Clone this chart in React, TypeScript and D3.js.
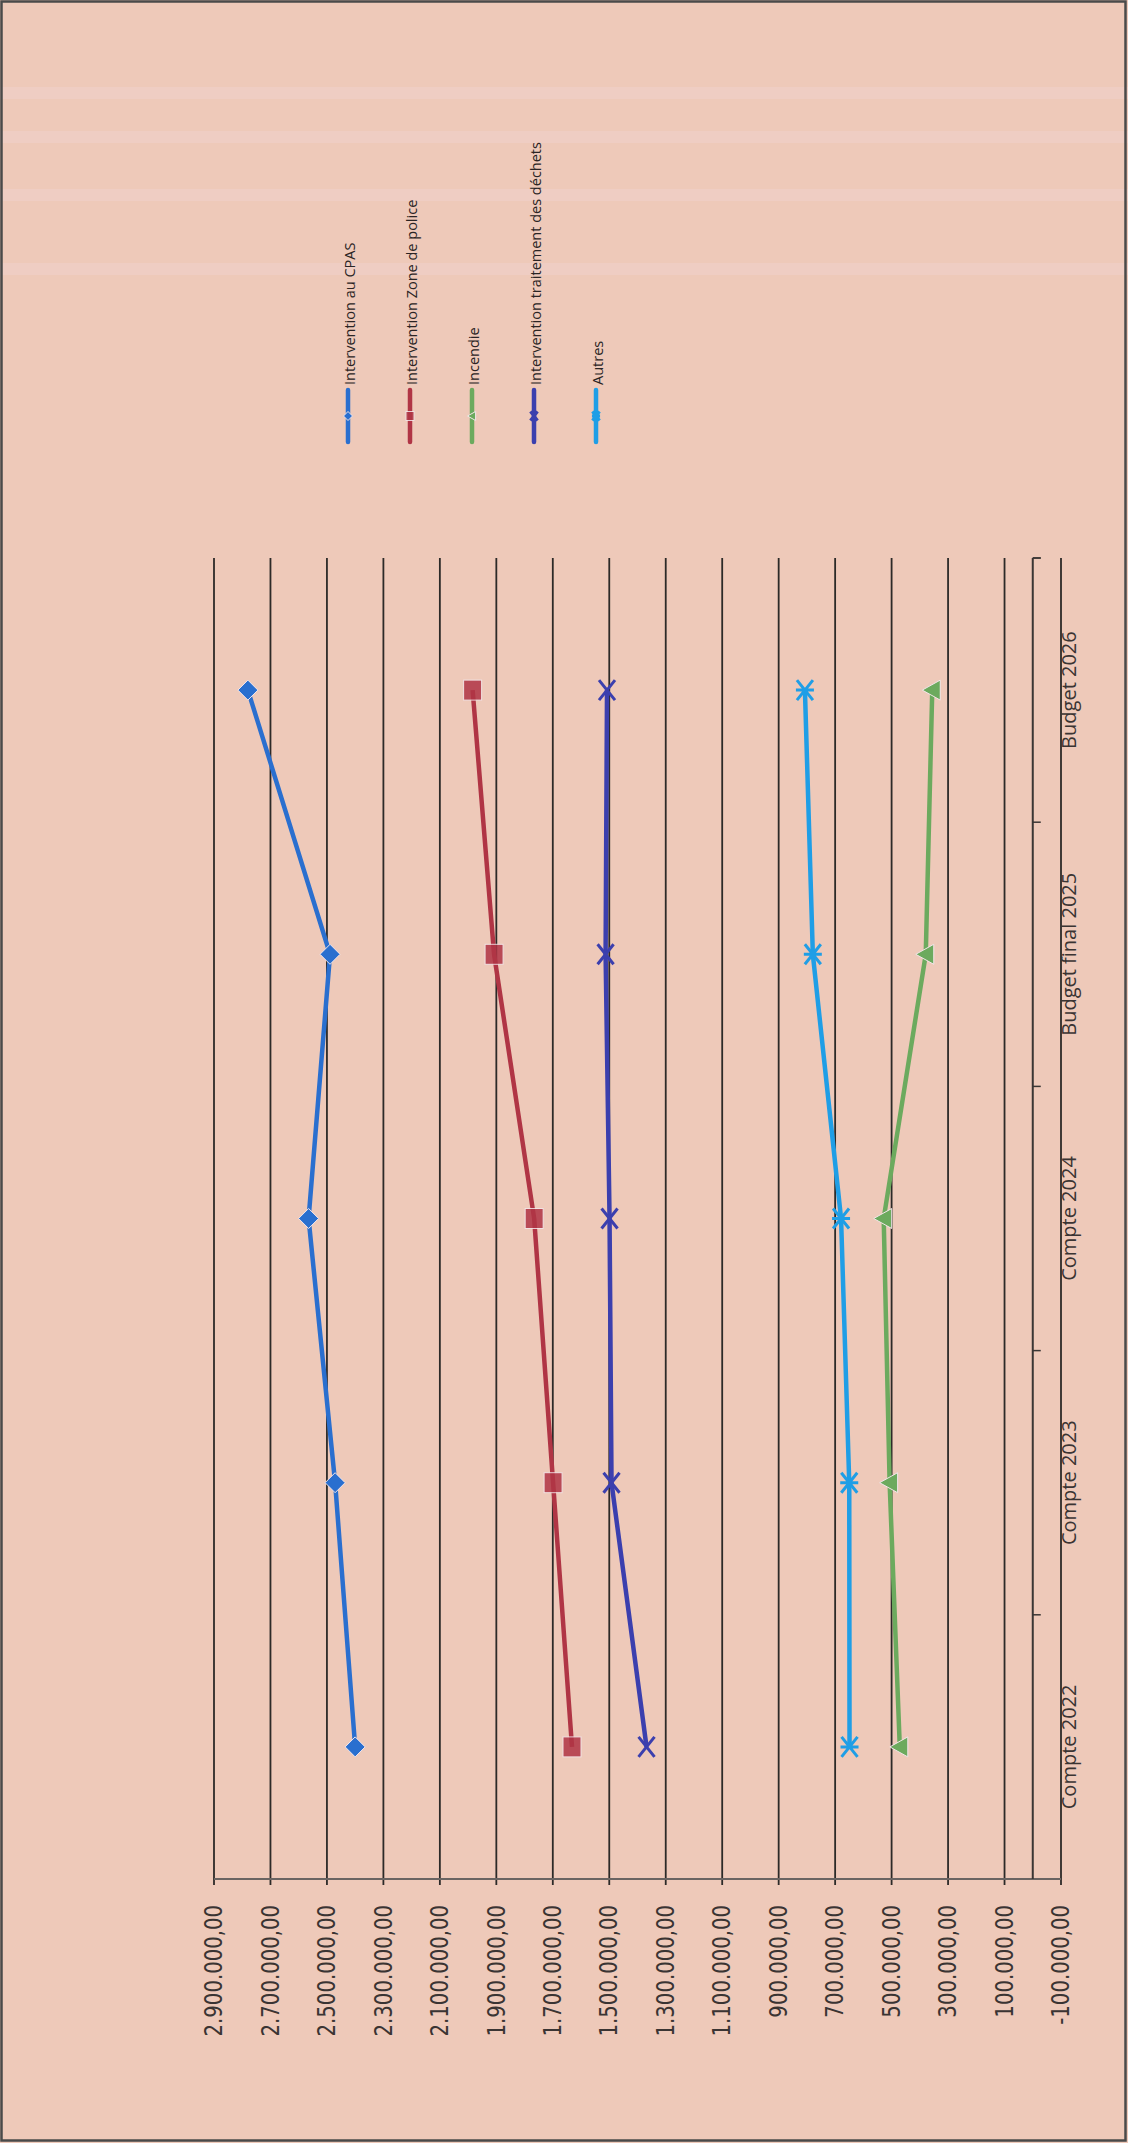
// @ts-nocheck
import * as d3 from "d3";
import { useRef, useEffect } from "react";

const categories = [
  "Compte 2022",
  "Compte 2023",
  "Compte 2024",
  "Budget final 2025",
  "Budget 2026",
];

const seriesNames = [
  "Intervention au CPAS",
  "Intervention Zone de police",
  "Incendie",
  "Intervention traitement des déchets",
  "Autres",
];

const cpasValues = [2400000, 2471000, 2565000, 2489000, 2780000];
const policeValues = [1632000, 1699000, 1766000, 1908000, 1984000];
const incendieValues = [471000, 507000, 528000, 379000, 356000];
const dechetsValues = [1368000, 1492000, 1499000, 1513000, 1508000];
const autresValues = [649000, 650000, 679000, 779000, 807000];

const valueTicks = [
  2900000, 2700000, 2500000, 2300000, 2100000, 1900000, 1700000, 1500000,
  1300000, 1100000, 900000, 700000, 500000, 300000, 100000, -100000,
];

const colors = ["#2a6fcf", "#b03545", "#6caa5e", "#3b3fae", "#1f9ee6"];
const markers = ["diamond", "square", "triangle", "x", "star"];

const locale = d3.formatLocale({
  decimal: ",",
  thousands: ".",
  grouping: [3],
  currency: ["", ""],
  minus: "-",
});
const fmt = locale.format(",.2f");

const App = () => {
  const ref = useRef();

  useEffect(() => {
    const width = 1128;
    const height = 2143;
    const top = 558;
    const bottom = 1879;

    const svg = d3.select(ref.current);
    svg.selectAll("*").remove();
    svg.attr("width", width).attr("height", height);

    // paper
    svg
      .append("rect")
      .attr("width", width)
      .attr("height", height)
      .attr("fill", "#eec9b9");

    // faint scan streaks near the top
    [93, 137, 195, 269].forEach((yy) => {
      svg
        .append("rect")
        .attr("x", 0)
        .attr("y", yy - 6)
        .attr("width", width)
        .attr("height", 12)
        .attr("fill", "#f1d3d6")
        .attr("opacity", 0.35);
    });

    svg
      .append("rect")
      .attr("x", 1.5)
      .attr("y", 1.5)
      .attr("width", 1124)
      .attr("height", 2139)
      .attr("fill", "none")
      .attr("stroke", "#4a4a4a")
      .attr("stroke-width", 2.5);

    const x = d3.scaleLinear().domain([-100000, 2900000]).range([1061, 214]);
    const y = d3.scaleBand().domain(categories).range([bottom, top]);
    const cy = (c) => y(c) + y.bandwidth() / 2;

    // gridlines (with tick stubs below the value axis)
    svg
      .append("g")
      .selectAll("line")
      .data(valueTicks)
      .enter()
      .append("line")
      .attr("x1", (d) => x(d))
      .attr("x2", (d) => x(d))
      .attr("y1", top)
      .attr("y2", bottom + 6)
      .attr("stroke", "#2c2a28")
      .attr("stroke-width", 1.8);

    // value axis
    svg
      .append("line")
      .attr("x1", x(2900000))
      .attr("x2", x(-100000))
      .attr("y1", bottom)
      .attr("y2", bottom)
      .attr("stroke", "#6a6462")
      .attr("stroke-width", 2);

    svg
      .append("g")
      .selectAll("text")
      .data(valueTicks)
      .enter()
      .append("text")
      .attr(
        "transform",
        (d) => "translate(" + x(d) + "," + (bottom + 26) + ") rotate(-90) scale(0.82,1)"
      )
      .attr("text-anchor", "end")
      .attr("dominant-baseline", "central")
      .attr("font-family", "DejaVu Sans")
      .attr("font-size", 24)
      .attr("fill", "#3a3433")
      .text((d) => fmt(d));

    // category axis at zero
    const x0 = x(0);
    svg
      .append("line")
      .attr("x1", x0)
      .attr("x2", x0)
      .attr("y1", top)
      .attr("y2", bottom)
      .attr("stroke", "#3a3634")
      .attr("stroke-width", 2);

    const edges = categories.map((c) => y(c)).concat([top]);
    svg
      .append("g")
      .selectAll("line")
      .data(edges)
      .enter()
      .append("line")
      .attr("x1", x0)
      .attr("x2", x0 + 8)
      .attr("y1", (d) => d)
      .attr("y2", (d) => d)
      .attr("stroke", "#3a3634")
      .attr("stroke-width", 1.5);

    svg
      .append("g")
      .selectAll("text")
      .data(categories)
      .enter()
      .append("text")
      .attr("transform", (d) => "translate(1068," + cy(d) + ") rotate(-90)")
      .attr("text-anchor", "middle")
      .attr("dominant-baseline", "central")
      .attr("font-family", "Open Sans")
      .attr("font-size", 20)
      .attr("fill", "#3a3433")
      .text((d) => d);

    const drawMarker = (g, type, color, s) => {
      if (type === "diamond") {
        g.append("path")
          .attr("d", `M0,${-10 * s}L${10 * s},0L0,${10 * s}L${-10 * s},0Z`)
          .attr("fill", color)
          .attr("stroke", "#f3e6ea")
          .attr("stroke-width", 1);
      } else if (type === "square") {
        g.append("rect")
          .attr("x", -9 * s)
          .attr("y", -10 * s)
          .attr("width", 18 * s)
          .attr("height", 20 * s)
          .attr("fill", color)
          .attr("opacity", 0.85)
          .attr("stroke", "#f3e6ea")
          .attr("stroke-width", 1);
      } else if (type === "triangle") {
        g.append("path")
          .attr("d", `M${-10 * s},0L${8 * s},${-10 * s}L${8 * s},${10 * s}Z`)
          .attr("fill", color)
          .attr("stroke", "#f3e6ea")
          .attr("stroke-width", 1);
      } else {
        const p = `M${-8 * s},${-10 * s}L${8 * s},${10 * s}M${8 * s},${-10 * s}L${-8 * s},${10 * s}`;
        g.append("path")
          .attr("d", type === "star" ? p + `M${-9 * s},0L${9 * s},0` : p)
          .attr("fill", "none")
          .attr("stroke", color)
          .attr("stroke-width", 3);
      }
    };

    const allValues = [cpasValues, policeValues, incendieValues, dechetsValues, autresValues];
    const line = d3
      .line()
      .x((d) => x(d.v))
      .y((d) => cy(d.c));

    allValues.forEach((vals, i) => {
      const pts = vals.map((v, j) => ({ v, c: categories[j] }));
      svg
        .append("path")
        .datum(pts)
        .attr("d", line)
        .attr("fill", "none")
        .attr("stroke", colors[i])
        .attr("stroke-width", 4.5)
        .attr("stroke-linejoin", "round");
      pts.forEach((p) => {
        const g = svg
          .append("g")
          .attr("transform", "translate(" + x(p.v) + "," + cy(p.c) + ")");
        drawMarker(g, markers[i], colors[i], 1);
      });
    });

    // legend
    seriesNames.forEach((name, i) => {
      const lx = 348 + i * 62;
      svg
        .append("line")
        .attr("x1", lx)
        .attr("x2", lx)
        .attr("y1", 390)
        .attr("y2", 442)
        .attr("stroke", colors[i])
        .attr("stroke-width", 4.5)
        .attr("stroke-linecap", "round");
      const g = svg.append("g").attr("transform", "translate(" + lx + ",416)");
      drawMarker(g, markers[i], colors[i], 0.45);
      svg
        .append("text")
        .attr("transform", "translate(" + (lx + 1) + ",385) rotate(-90)")
        .attr("text-anchor", "start")
        .attr("dominant-baseline", "central")
        .attr("font-family", "Open Sans")
        .attr("font-size", 14.5)
        .attr("fill", "#2a2424")
        .text(name);
    });
  }, []);

  return (
    <div style={{ position: "absolute", left: 0, top: 0 }}>
      <svg ref={ref} style={{ display: "block" }}></svg>
    </div>
  );
};

export default App;
